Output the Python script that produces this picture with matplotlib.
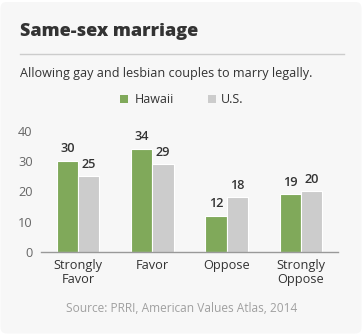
import matplotlib
matplotlib.use("Agg")
import matplotlib.pyplot as plt
from matplotlib.patches import FancyBboxPatch, Rectangle
import numpy as np

categories = ["Strongly\nFavor", "Favor", "Oppose", "Strongly\nOppose"]
hawaii = [30, 34, 12, 19]
us = [25, 29, 18, 20]
series_names = ["Hawaii", "U.S."]
y_ticks = [0, 10, 20, 30, 40]

GREEN = "#80a95a"
GRAY = "#cccccc"
DARK = "#333333"
BG = "#f7f7f7"

plt.rcParams["font.family"] = ["Open Sans", "DejaVu Sans"]

W, H = 363, 335
fig = plt.figure(figsize=(W / 100, H / 100), dpi=100)
fig.patch.set_facecolor("white")

# rounded card background
card = FancyBboxPatch((0.5, 1.5), W - 2, H - 3.5,
                      boxstyle="round,pad=0,rounding_size=6",
                      transform=None, facecolor=BG, edgecolor="none", zorder=-5)
fig.patches.append(card)

def fx(px):
    return px / W

def fy(py):
    return 1 - py / H

# header
fig.text(fx(20), fy(31), "Same-sex marriage", fontsize=13.0, fontweight="heavy",
         color=DARK, va="center", ha="left")
fig.add_artist(plt.Line2D([fx(20), fx(344)], [fy(53.5), fy(53.5)],
                          color="#cccccc", lw=1))
fig.text(fx(20), fy(73), "Allowing gay and lesbian couples to marry legally.",
         fontsize=9.1, color=DARK, va="center", ha="left")

# legend
for sx, tx, col, name in [(120, 135, GREEN, series_names[0]),
                          (208, 221, GRAY, series_names[1])]:
    fig.patches.append(Rectangle((sx, H - 103), 8, 8, transform=None,
                                 facecolor=col, edgecolor="none"))
    fig.text(fx(tx), fy(99), name, fontsize=9, color=DARK,
             va="center", ha="left")

# bars
ax = fig.add_axes([fx(41), fy(252), fx(338) - fx(41), (252 - 130.7) / H])
ax.set_facecolor("none")
x = np.arange(len(categories))
bw = 0.285
b1 = ax.bar(x - bw / 2, hawaii, bw, color=GREEN, edgecolor="white", linewidth=0.8)
b2 = ax.bar(x + bw / 2, us, bw, color=GRAY, edgecolor="white", linewidth=0.8)
for bars, vals in [(b1, hawaii), (b2, us)]:
    for r, v in zip(bars, vals):
        ax.annotate(str(v), (r.get_x() + r.get_width() / 2, v),
                    xytext=(0, 4), textcoords="offset points",
                    ha="center", va="bottom", fontsize=9.2,
                    fontweight="semibold", color=DARK)

ax.set_xlim(-0.5, 3.5)
ax.set_ylim(0, 40)
ax.set_yticks(y_ticks)
ax.set_xticks(x)
ax.set_xticklabels(categories, fontsize=9.2, color=DARK, linespacing=1.15)
ax.tick_params(axis="y", length=0, pad=6, labelsize=9.2, labelcolor="#666666")
ax.tick_params(axis="x", length=0, pad=5)
for s in ["top", "right", "left"]:
    ax.spines[s].set_visible(False)
ax.spines["bottom"].set_color("#999999")
ax.spines["bottom"].set_linewidth(1)

fig.text(fx(182), fy(308), "Source: PRRI, American Values Atlas, 2014",
         fontsize=8.6, color="#a0a0a0", ha="center", va="center")

fig.savefig("out.png", dpi=100, facecolor=fig.get_facecolor())
